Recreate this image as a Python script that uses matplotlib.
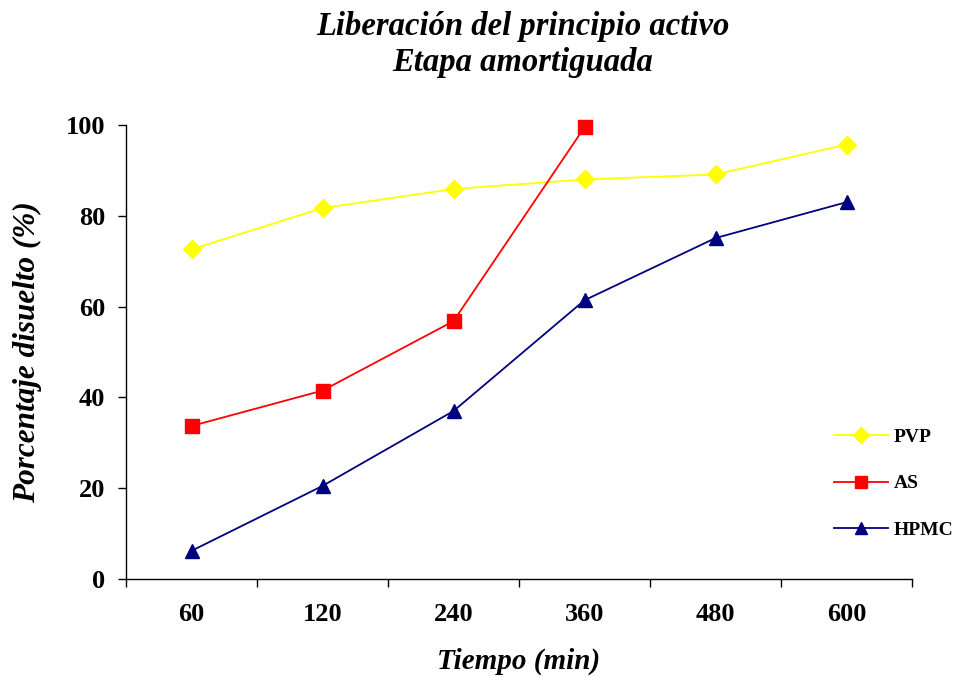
import matplotlib
matplotlib.use("Agg")
import matplotlib.pyplot as plt
import numpy as np

categories = ["60", "120", "240", "360", "480", "600"]
pvp = [72.6, 81.7, 85.9, 88.0, 89.1, 95.7]
as_vals = [33.7, 41.5, 56.8, 99.5]
hpmc = [6.2, 20.5, 37.0, 61.4, 75.1, 83.0]
yticks = [0, 20, 40, 60, 80, 100]

plt.rcParams['font.family'] = ['Liberation Serif', 'DejaVu Serif']

fig = plt.figure(figsize=(9.59, 6.77), dpi=100)
ax = fig.add_axes([126/959, 1-579/677, (912-126)/959, (579-125)/677])

x = np.arange(len(categories))
ax.plot(x, pvp, color='#FFFF00', marker='D', markersize=9, lw=1.3, label='PVP', clip_on=False)
ax.plot(x[:len(as_vals)], as_vals, color='#FF0000', marker='s', markersize=10, lw=1.3, label='AS', clip_on=False)
ax.plot(x, hpmc, color='#000080', marker='^', markersize=10, lw=1.3, label='HPMC', clip_on=False)

ax.set_xlim(-0.5, len(categories)-0.5)
ax.set_ylim(0, 100)
ax.set_yticks(yticks)
ax.set_yticklabels([str(v) for v in yticks], fontsize=19, fontweight='bold')
ax.set_xticks(x)
ax.set_xticklabels(categories, fontsize=19, fontweight='bold')
ax.set_xticks(np.arange(-0.5, len(categories)), minor=True)
ax.tick_params(axis='x', which='major', length=0, pad=17)
ax.tick_params(axis='x', which='minor', length=6, width=1, direction='out')
ax.tick_params(axis='y', length=6, width=1, direction='out', pad=9)
for s in ['top', 'right']:
    ax.spines[s].set_visible(False)
for s in ['left', 'bottom']:
    ax.spines[s].set_linewidth(1)

ax.set_xlabel('Tiempo (min)', fontsize=21, fontweight='bold', fontstyle='italic', labelpad=16)
ax.set_ylabel('Porcentaje disuelto (%)', fontsize=22.5, fontweight='bold', fontstyle='italic', labelpad=17)

fig.text(0.545, 1-26/677, 'Liberación del principio activo', ha='center', va='center',
         fontsize=23.5, fontweight='bold', fontstyle='italic')
fig.text(0.545, 1-63/677, 'Etapa amortiguada', ha='center', va='center',
         fontsize=23.5, fontweight='bold', fontstyle='italic')

leg = ax.legend(loc='center left', bbox_to_anchor=(834/959, 1-483.5/677), bbox_transform=fig.transFigure,
                frameon=False, prop={'weight': 'bold', 'size': 14},
                handlelength=2.78, handletextpad=0.3, labelspacing=1.48,
                borderpad=0, borderaxespad=0, markerscale=0.85)

fig.savefig('out.png', dpi=100)
